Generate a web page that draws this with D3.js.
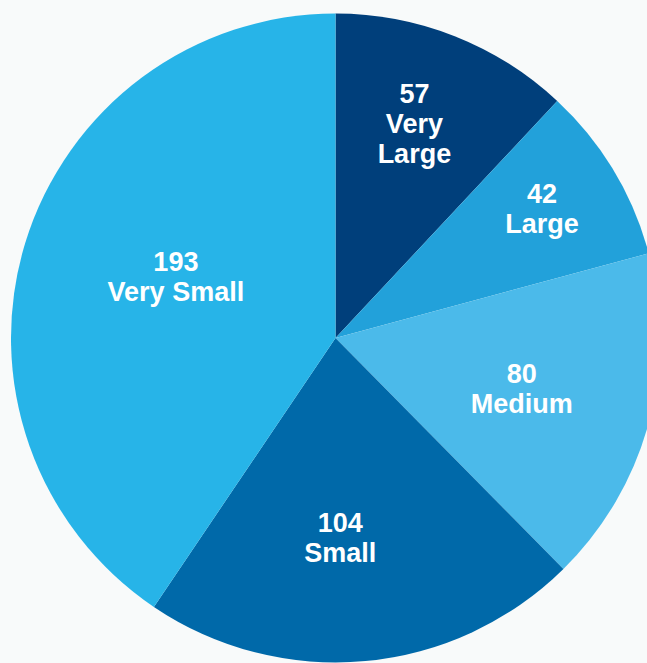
<!DOCTYPE html>
<html>
<head>
<meta charset="utf-8">
<script src="https://cdn.jsdelivr.net/npm/d3@7"></script>
<style>
  html, body { margin: 0; padding: 0; background: #f8fafa; overflow: hidden; }
  svg { display: block; }
</style>
</head>
<body>
<svg id="chart" width="647" height="663"></svg>
<script>
// Data
const categories = ["Very Large", "Large", "Medium", "Small", "Very Small"];
const values = [57, 42, 80, 104, 193];

// Style / layout (not data)
const colors = ["#003f7b", "#22a1da", "#4bbaea", "#0069a9", "#27b4e8"];
const labelRadius = [229, 244, 193, 199, 171];
const labelAngleShift = [-1.4, -1.2, 0, 3.9, 4.0]; // degrees

const W = 647, H = 663;
const cx = 335.5, cy = 338, R = 324.5;

const svg = d3.select("#chart");
svg.append("rect").attr("width", W).attr("height", H).attr("fill", "#f8fafa");

const g = svg.append("g").attr("transform", `translate(${cx},${cy})`);

const pie = d3.pie().sort(null).value(d => d.value);
const data = categories.map((c, i) => ({ name: c, value: values[i], i }));
const arcs = pie(data);
const arc = d3.arc().innerRadius(0).outerRadius(R);

g.selectAll("path.slice")
  .data(arcs)
  .join("path")
  .attr("class", "slice")
  .attr("d", arc)
  .attr("fill", d => colors[d.data.i]);

const lineH = 30;
g.selectAll("text.label")
  .data(arcs)
  .join("text")
  .attr("class", "label")
  .attr("text-anchor", "middle")
  .attr("fill", "#ffffff")
  .style("font-family", "'Liberation Sans', Arial, sans-serif")
  .style("font-weight", "bold")
  .style("font-size", "27px")
  .each(function(d) {
    const i = d.data.i;
    const mid = (d.startAngle + d.endAngle) / 2 + labelAngleShift[i] * Math.PI / 180;
    const r = labelRadius[i];
    const x = Math.sin(mid) * r;
    const y = -Math.cos(mid) * r;
    const words = d.data.name === "Very Large" ? ["Very", "Large"] : [d.data.name];
    const lines = [String(d.data.value)].concat(words);
    const n = lines.length;
    const capH = 27 * 0.72;
    const firstBaseline = y - ((n - 1) * lineH + capH) / 2 + capH;
    const t = d3.select(this);
    lines.forEach((ln, k) => {
      t.append("tspan")
        .attr("x", x)
        .attr("y", firstBaseline + k * lineH)
        .text(ln);
    });
  });
</script>
</body>
</html>
